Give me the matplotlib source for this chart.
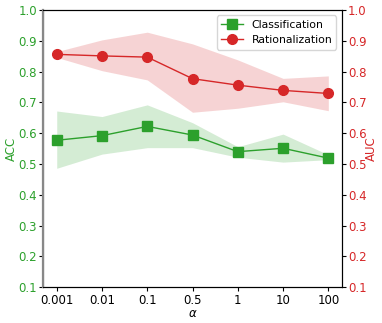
import numpy as np
import matplotlib
matplotlib.use('Agg')
import matplotlib.pyplot as plt

alphas = ['0.001', '0.01', '0.1', '0.5', '1', '10', '100']
acc = [0.577, 0.592, 0.622, 0.594, 0.540, 0.551, 0.519]
acc_hi = [0.672, 0.654, 0.692, 0.634, 0.556, 0.597, 0.530]
acc_lo = [0.486, 0.532, 0.553, 0.553, 0.522, 0.506, 0.514]
auc = [0.856, 0.851, 0.847, 0.777, 0.756, 0.739, 0.729]
auc_hi = [0.865, 0.903, 0.928, 0.890, 0.838, 0.778, 0.786]
auc_lo = [0.846, 0.803, 0.773, 0.668, 0.681, 0.702, 0.673]

green = '#2ca02c'
red = '#d62728'
fs = 8.5

fig = plt.figure(figsize=(3.82, 3.23), dpi=100)
ax = fig.add_axes([0.113, 0.111, 0.782, 0.858])
ax2 = ax.twinx()
x = np.arange(len(alphas))

l1, = ax.plot(x, acc, color=green, marker='s', markersize=7, lw=1, label='Classification')
ax.fill_between(x, acc_lo, acc_hi, color=green, alpha=0.2, lw=0)
l2, = ax2.plot(x, auc, color=red, marker='o', markersize=7, lw=1, label='Rationalization')
ax2.fill_between(x, auc_lo, auc_hi, color=red, alpha=0.2, lw=0)

for a in (ax, ax2):
    a.set_ylim(0.1, 1.0)
    a.set_yticks(np.arange(0.1, 1.01, 0.1))
ax.set_xticks(x)
ax.set_xticklabels(alphas, fontsize=fs)
ax.tick_params(axis='x', pad=2, length=3)
ax.tick_params(axis='y', colors=green, labelsize=fs, pad=1.5, length=3)
ax2.tick_params(axis='y', colors=red, labelsize=fs, pad=1.5, length=3)
ax2.tick_params(axis='y', which='both', color='black')
ax.tick_params(axis='y', color='black')
ax.set_ylabel('ACC', color=green, fontsize=fs, labelpad=0)
ax2.set_ylabel('AUC', color=red, fontsize=fs, labelpad=-1)
ax.set_xlabel(r'$\alpha$', fontsize=fs, labelpad=0)
ax2.spines['left'].set_color('#888888')
ax2.spines['left'].set_linewidth(1.6)

ax2.legend(handles=[l1, l2], loc='upper right', fontsize=7.8)

fig.savefig('out.png', dpi=100)
